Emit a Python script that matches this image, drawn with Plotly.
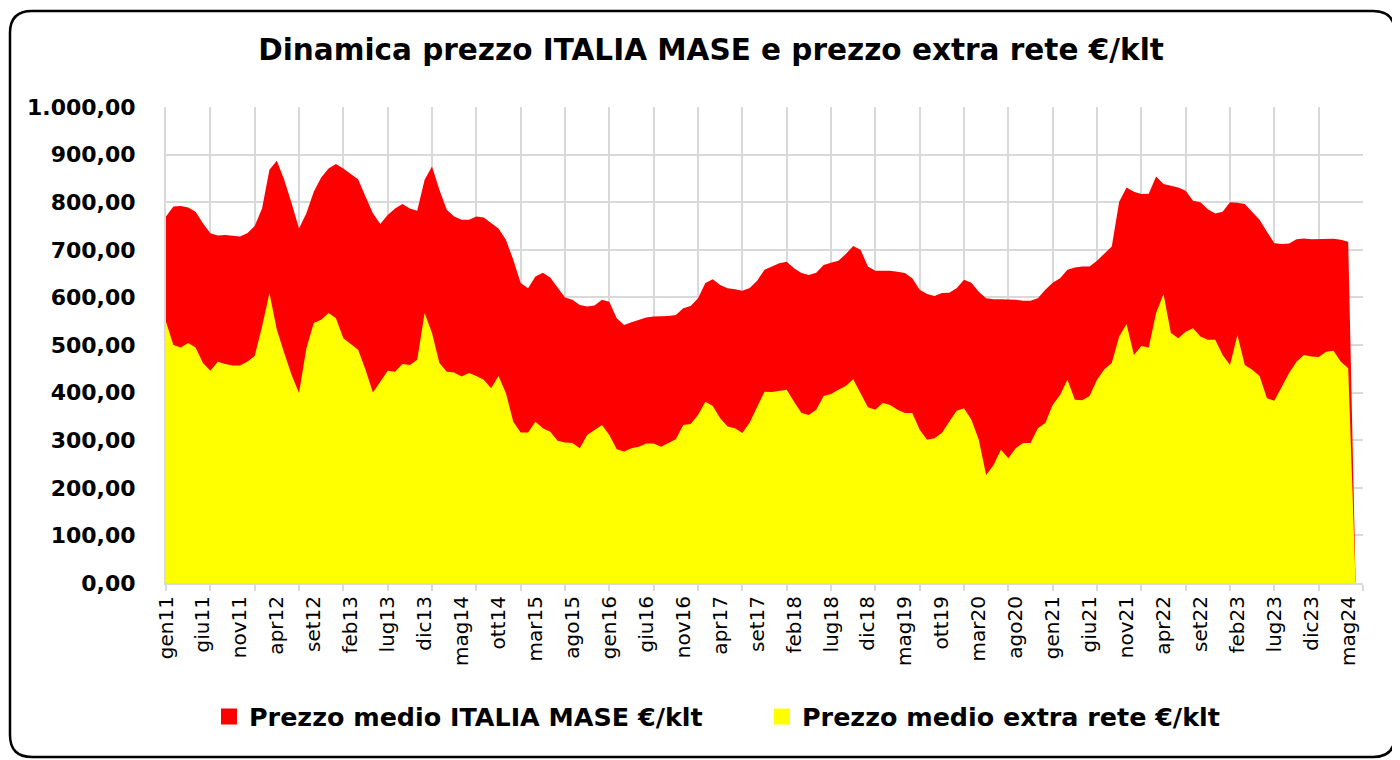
import plotly.graph_objects as go

# ---------------- data ----------------
MESI = ["gen", "feb", "mar", "apr", "mag", "giu", "lug", "ago", "set", "ott", "nov", "dic"]
months = [f"{MESI[k % 12]}{11 + k // 12}" for k in range(163)]  # gen11 .. lug24

mase = [
    770, 791, 792, 789, 780, 756, 735, 730, 731, 730, 728, 735,
    750, 787, 868, 887, 847, 798, 745, 777, 822, 852, 871, 880,
    871, 859, 848, 812, 777, 754, 773, 787, 796, 787, 782, 847,
    875, 826, 784, 770, 763, 763, 770, 768, 756, 745, 721, 679,
    630, 619, 644, 652, 642, 622, 600, 595, 584, 581, 583, 595,
    591, 556, 542, 548, 553, 558, 560, 560, 561, 563, 577, 582,
    598, 630, 638, 626, 619, 617, 614, 620, 635, 658, 665, 672,
    675, 661, 651, 647, 652, 668, 673, 677, 691, 708, 700, 665,
    656, 656, 656, 654, 651, 640, 616, 607, 603, 609, 610, 619,
    637, 631, 612, 598, 596, 596, 596, 595, 593, 593, 598, 616,
    631, 640, 658, 663, 665, 665, 677, 691, 707, 801, 831, 822,
    817, 818, 854, 838, 834, 831, 824, 803, 800, 785, 776, 780,
    800, 799, 796, 780, 763, 738, 714, 712, 713, 722, 724, 722,
    722, 723, 723, 721, 717, 0, 0,
]

extra = [
    549, 500, 495, 504, 495, 462, 446, 465, 460, 457, 457, 465,
    477, 539, 609, 532, 483, 437, 399, 493, 546, 553, 567, 556,
    514, 502, 490, 448, 400, 423, 446, 444, 460, 458, 469, 567,
    525, 462, 444, 442, 434, 441, 435, 427, 409, 435, 399, 339,
    316, 316, 339, 325, 318, 299, 295, 294, 283, 311, 322, 332,
    311, 281, 276, 283, 286, 293, 293, 286, 294, 302, 332, 334,
    353, 381, 372, 346, 329, 325, 315, 337, 370, 402, 401, 404,
    406, 381, 357, 353, 364, 393, 397, 406, 414, 428, 399, 369,
    364, 378, 374, 364, 357, 357, 322, 301, 304, 315, 339, 362,
    367, 343, 301, 227, 248, 280, 262, 283, 294, 294, 325, 336,
    374, 395, 427, 385, 384, 393, 427, 449, 462, 518, 544, 479,
    498, 495, 567, 607, 525, 514, 528, 535, 518, 511, 511, 479,
    458, 521, 458, 448, 435, 388, 383, 413, 441, 465, 479, 476,
    475, 486, 488, 465, 451, 0, 0,
]

label_idx = list(range(0, 161, 5))      # labels every 5 months
grid_idx = list(range(0, 163, 6))       # tick marks / gridlines every 6 months
y_ticks = [0, 100, 200, 300, 400, 500, 600, 700, 800, 900, 1000]
y_labels = ["0,00", "100,00", "200,00", "300,00", "400,00", "500,00",
            "600,00", "700,00", "800,00", "900,00", "1.000,00"]

name_mase = "Prezzo medio ITALIA MASE €/klt"
name_extra = "Prezzo medio extra rete €/klt"
RED = "#FF0000"
YELLOW = "#FFFF00"
GRID = "#D9D9D9"

x = list(range(len(months)))

fig = go.Figure()
fig.add_trace(go.Scatter(x=x, y=mase, mode="lines", fill="tozeroy",
                         line=dict(width=0, color=RED), fillcolor=RED,
                         name=name_mase, legendgroup="mase", showlegend=False))
fig.add_trace(go.Scatter(x=x, y=extra, mode="lines", fill="tozeroy",
                         line=dict(width=0, color=YELLOW), fillcolor=YELLOW,
                         name=name_extra, legendgroup="extra", showlegend=False))
# legend swatches
fig.add_trace(go.Scatter(x=[None], y=[None], mode="markers",
                         marker=dict(symbol="square", size=16, color=RED),
                         name=name_mase, legendgroup="mase"))
fig.add_trace(go.Scatter(x=[None], y=[None], mode="markers",
                         marker=dict(symbol="square", size=16, color=YELLOW),
                         name=name_extra, legendgroup="extra"))
# carrier for the label axis
fig.add_trace(go.Scatter(x=[0, len(months) - 1], y=[0, 0], mode="markers",
                         marker=dict(opacity=0), xaxis="x2", showlegend=False,
                         hoverinfo="skip"))

# page body margin compensation: figure is drawn 8px right/down in the window
OFF = 8
W, H = 1400 - OFF, 760 - OFF
# plot-area in window pixels: x 166..1363, y 107..583
PL, PR, PT, PB = 166 - OFF, 1363 - OFF, 107 - OFF, 583 - OFF
L_M, R_M, T_M, B_M = PL, W - PR, PT, H - PB
PW, PH = PR - PL, PB - PT


def P(px, py):
    # window pixel -> paper coords
    return ((px - OFF - PL) / PW, (PB - (py - OFF)) / PH)


bl, br, bt, bb, rr = 10, 1395, 11, 757, 22
pts = [
    ("M", [(bl + rr, bt)]), ("L", [(br - rr, bt)]), ("Q", [(br, bt), (br, bt + rr)]),
    ("L", [(br, bb - rr)]), ("Q", [(br, bb), (br - rr, bb)]), ("L", [(bl + rr, bb)]),
    ("Q", [(bl, bb), (bl, bb - rr)]), ("L", [(bl, bt + rr)]), ("Q", [(bl, bt), (bl + rr, bt)]),
]
path = ""
for cmd, plist in pts:
    path += cmd + " " + " ".join(f"{P(a, b)[0]:.5f},{P(a, b)[1]:.5f}" for a, b in plist) + " "
path += "Z"

fig.update_layout(
    width=W, height=H,
    margin=dict(l=L_M, r=R_M, t=T_M, b=B_M),
    paper_bgcolor="white", plot_bgcolor="white",
    title=dict(text="Dinamica prezzo ITALIA MASE e prezzo extra rete €/klt",
               x=(711 - OFF) / W, xanchor="center", xref="container",
               y=1 - (50 - OFF) / H, yanchor="middle", yref="container",
               font=dict(family="DejaVu Sans", size=29.5, color="black", weight="bold")),
    xaxis=dict(range=[0, len(months) - 1], tickvals=grid_idx, showticklabels=False,
               ticks="outside", ticklen=6, tickwidth=2, tickcolor=GRID,
               showgrid=True, gridcolor=GRID, gridwidth=2,
               showline=True, linecolor=GRID, linewidth=2, zeroline=False),
    xaxis2=dict(overlaying="x", anchor="y", side="bottom", range=[0, len(months) - 1],
                tickmode="array", tickvals=label_idx,
                ticktext=[months[i] for i in label_idx], tickangle=-90,
                ticks="", showgrid=False, showline=False, zeroline=False,
                ticklabelstandoff=8,
                tickfont=dict(family="DejaVu Sans", size=20, color="black")),
    yaxis=dict(range=[0, 1000], tickvals=y_ticks, ticktext=y_labels,
               showgrid=True, gridcolor=GRID, gridwidth=2,
               showline=True, linecolor=GRID, linewidth=2, zeroline=False,
               ticks="", ticklabelstandoff=24,
               tickfont=dict(family="DejaVu Sans", size=22, color="black", weight="bold")),
    legend=dict(orientation="h", xref="container", yref="container",
                x=(209 - OFF) / W, xanchor="left", y=1 - (717 - OFF) / H, yanchor="middle",
                entrywidth=508, entrywidthmode="pixels",
                font=dict(family="DejaVu Sans", size=25.4, color="black", weight="bold"),
                bgcolor="rgba(0,0,0,0)"),
    shapes=[dict(type="path", xref="paper", yref="paper", path=path,
                 line=dict(color="black", width=2.5), fillcolor="rgba(0,0,0,0)")],
    showlegend=True,
    hovermode=False,
)

fig.write_html("out.html")
